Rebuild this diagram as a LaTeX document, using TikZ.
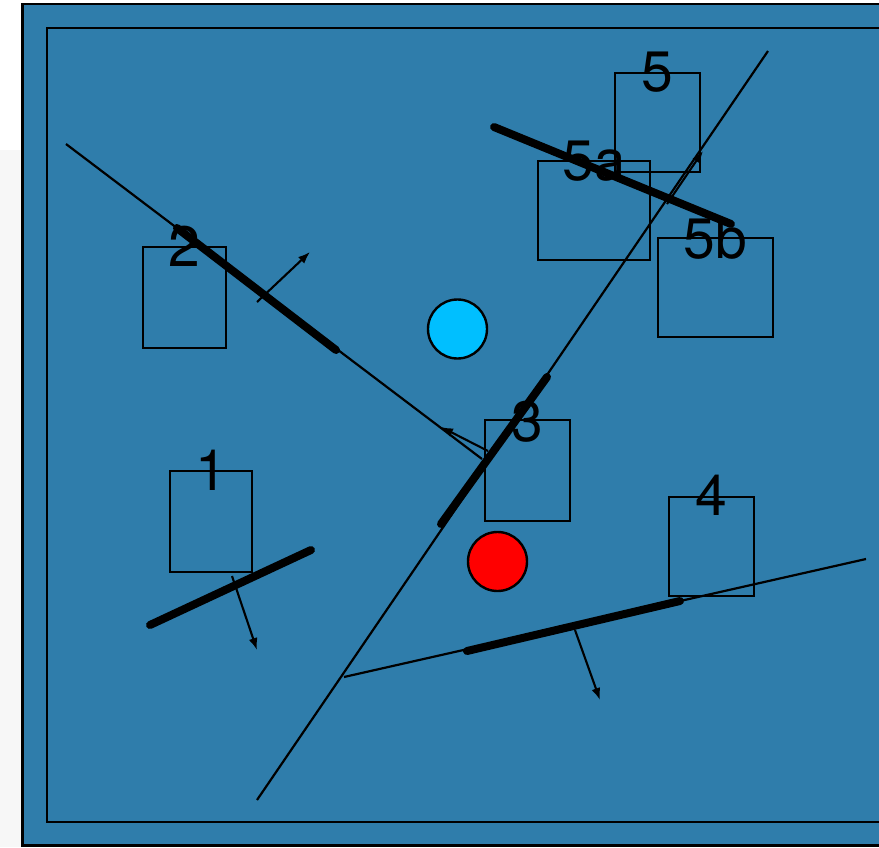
\documentclass[tikz,border=0pt]{standalone}
\usepackage{fontspec}
\setmainfont{TeX Gyre Heros}
\usetikzlibrary{arrows.meta}
\definecolor{boardblue}{RGB}{47,125,171}
\definecolor{stripgray}{RGB}{247,247,247}
\definecolor{skyball}{RGB}{0,191,255}
\tikzset{
  frameline/.style={draw=black, line width=2.8pt},
  boxnode/.style={draw=black, line width=2.7pt, rectangle, inner sep=0pt},
  labnode/.style={inner sep=0pt, anchor=base, font=\fontsize{57pt}{60pt}\selectfont},
  thinline/.style={draw=black, line width=2.2pt},
  thickseg/.style={draw=black, line width=8pt, line cap=round},
  normarrow/.style={draw=black, line width=2.1pt, -{Latex[length=12pt,width=9pt]}},
  ball/.style={circle, draw=black, line width=2.4pt, minimum size=59pt, inner sep=0pt}
}
\begin{document}
\begin{tikzpicture}[x=1pt,y=-1pt]
\useasboundingbox (0,0) rectangle (879,847);
\clip (0,0) rectangle (879,847);
\fill[white] (0,0) rectangle (879,847);
\fill[stripgray] (0,150) rectangle (22,847);
\fill[boardblue] (22.5,4) rectangle (890,845.5);
\draw[frameline] (22.5,4) rectangle (890,845.5);
\draw[frameline] (47,28) rectangle (890,822);

% boxes
\node[boxnode, minimum width=85pt, minimum height=99pt] (b5) at (657.5,122.5) {};
\node[boxnode, minimum width=112pt, minimum height=99pt] (b5a) at (594,210.5) {};
\node[boxnode, minimum width=115pt, minimum height=99pt] (b5b) at (715.5,287.5) {};
\node[boxnode, minimum width=83pt, minimum height=101pt] (b2) at (184.5,297.5) {};
\node[boxnode, minimum width=85pt, minimum height=101pt] (b3) at (527.5,470.5) {};
\node[boxnode, minimum width=82pt, minimum height=101pt] (b1) at (211,521.5) {};
\node[boxnode, minimum width=85pt, minimum height=99pt] (b4) at (711.5,546.5) {};

% labels
\node[labnode] (l5) at ([yshift=-20pt]b5.north) {5};
\node[labnode] (l5a) at ([yshift=-21pt]b5a.north) {5a};
\node[labnode] (l5b) at ([yshift=-22pt]b5b.north) {5b};
\node[labnode] (l2) at ([yshift=-21pt]b2.north) {2};
\node[labnode] (l3) at ([yshift=-23pt]b3.north) {3};
\node[labnode] (l1) at ([yshift=-21pt]b1.north) {1};
\node[labnode] (l4) at ([yshift=-20pt]b4.north) {4};

% circles
\node[ball, fill=skyball] (cblue) at (457.5,329) {};
\node[ball, fill=red] (cred) at (497.5,561.5) {};

% line endpoints
\coordinate (p2a) at (66,144);
\coordinate (p2b) at (482,459);
\coordinate (p5a) at (768,51);
\coordinate (p5b) at (257,800);
\coordinate (p4a) at (344,677);
\coordinate (p4b) at (866,559);

\coordinate (t2a) at (177,228);
\coordinate (t2b) at (336,350);
\coordinate (t3a) at (441,524);
\coordinate (t3b) at (547,377);
\coordinate (t4a) at (467,651);
\coordinate (t4b) at (680,601);
\coordinate (t1a) at (150,625);
\coordinate (t1b) at (311,550);
\coordinate (t5a) at (494,127);
\coordinate (t5b) at (731,224);

\coordinate (a1s) at (232,576);  \coordinate (a1e) at (257,650);
\coordinate (a2s) at (257,302);  \coordinate (a2e) at (310,252);
\coordinate (a3s) at (488,451);  \coordinate (a3e) at (441,427);
\coordinate (a4s) at (575,630);  \coordinate (a4e) at (600,700);
\coordinate (a5s) at (667,204);  \coordinate (a5e) at (703,151);

% thin lines
\draw[thinline] (p2a) -- (p2b);
\draw[thinline] (p5a) -- (p5b);
\draw[thinline] (p4a) -- (p4b);

% thick segments
\draw[thickseg] (t2a) -- (t2b);
\draw[thickseg] (t3a) -- (t3b);
\draw[thickseg] (t4a) -- (t4b);
\draw[thickseg] (t1a) -- (t1b);
\draw[thickseg] (t5a) -- (t5b);

% normal arrows
\draw[normarrow] (a1s) -- (a1e);
\draw[normarrow] (a2s) -- (a2e);
\draw[normarrow] (a3s) -- (a3e);
\draw[normarrow] (a4s) -- (a4e);
\draw[normarrow] (a5s) -- (a5e);
\end{tikzpicture}
\end{document}
